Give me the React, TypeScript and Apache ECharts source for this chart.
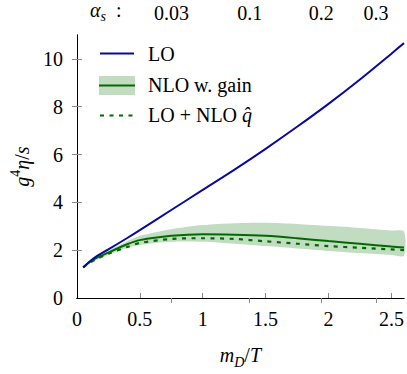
import React, { useEffect, useRef } from "react";
import * as echarts from "echarts";

// m_D / T sample positions
const mD = [0.05, 0.1, 0.15, 0.25, 0.4, 0.5, 0.75, 1.0, 1.25, 1.5, 1.75, 2.0, 2.25, 2.5, 2.6];
// LO
const lo = [1.28, 1.52, 1.72, 2.03, 2.51, 2.84, 3.68, 4.52, 5.36, 6.24, 7.16, 8.12, 9.14, 10.22, 10.66];
// NLO w. gain (central)
const nlo = [1.28, 1.5, 1.66, 1.9, 2.25, 2.42, 2.6, 2.67, 2.65, 2.6, 2.5, 2.38, 2.27, 2.15, 2.11];
// NLO band upper / lower
const nloHi = [1.28, 1.52, 1.7, 1.97, 2.38, 2.6, 2.88, 3.05, 3.13, 3.15, 3.1, 3.02, 2.93, 2.82, 2.78];
const nloLo = [1.28, 1.45, 1.58, 1.8, 2.1, 2.22, 2.35, 2.35, 2.27, 2.17, 2.07, 1.97, 1.88, 1.8, 1.77];
// LO + NLO qhat
const loNloQ = [1.28, 1.47, 1.62, 1.85, 2.13, 2.3, 2.47, 2.5, 2.47, 2.37, 2.27, 2.17, 2.1, 2.03, 2.0];

// tick labels
const xTicks = [0, 0.5, 1, 1.5, 2, 2.5];
const yTicks = [0, 2, 4, 6, 8, 10];
const alphaTicks = [0.03, 0.1, 0.2, 0.3];
const alphaLabels = ["0.03", "0.1", "0.2", "0.3"];
const alphaTitlePos = 0.23;

// m_D/T for N_f = 3: m_D^2 = (1 + N_f/6) g^2 T^2, g^2 = 4 pi alpha_s
const alphaToMD = (a: number) => Math.sqrt(1.5 * 4 * Math.PI * a);

const FONT = "'Liberation Serif', 'Times New Roman', serif";
const FS = 20;
const FSS = 14;
const BLUE = "#0a0a9a";
const GREEN = "#006a00";
const BAND = "#c2dcc2";

const pairs = (ys: number[]) => mD.map((x, i) => [x, ys[i]]);

export default function App() {
  const ref = useRef<HTMLDivElement>(null);
  useEffect(() => {
    const chart = echarts.init(ref.current!, null, { renderer: "svg" });
    const alphaPos = alphaTicks.map(alphaToMD);
    const axisCommon = {
      axisLine: { show: true, lineStyle: { color: "#000", width: 1 } },
      splitLine: { show: false },
    };
    const labelStyle = { fontFamily: FONT, fontSize: FS, color: "#000" };
    chart.setOption({
      animation: false,
      textStyle: { fontFamily: FONT },
      grid: { left: 72, right: 3, top: 33, bottom: 71, containLabel: false },
      xAxis: [
        {
          type: "value",
          position: "bottom",
          min: 0,
          max: 2.6,
          ...axisCommon,
          axisTick: { show: true, inside: true, length: 5, customValues: xTicks.slice(1), lineStyle: { color: "#888" } },
          axisLabel: { ...labelStyle, margin: 11, customValues: xTicks, formatter: (v: number) => String(v) },
          name: "{i|m}{sub|D}{n|/}{i|T}",
          nameLocation: "middle",
          nameGap: 43,
          nameTextStyle: {
            fontFamily: FONT,
            rich: {
              i: { fontFamily: FONT, fontSize: FS, fontStyle: "italic", color: "#000", lineHeight: 28, verticalAlign: "middle" },
              n: { fontFamily: FONT, fontSize: FS, color: "#000", lineHeight: 28, verticalAlign: "middle" },
              sub: { fontFamily: FONT, fontSize: FSS, fontStyle: "italic", color: "#000", lineHeight: 14, verticalAlign: "bottom" },
            },
          },
        },
        {
          type: "value",
          position: "top",
          min: 0,
          max: 2.6,
          ...axisCommon,
          axisTick: { show: true, inside: true, length: 5, customValues: alphaPos, lineStyle: { color: "#888" } },
          axisLabel: {
            ...labelStyle,
            margin: 12,
            customValues: [alphaTitlePos, ...alphaPos],
            formatter: (v: number) => {
              if (Math.abs(v - alphaTitlePos) < 1e-6) return "{a|α}{s|s}{c|  :}";
              let best = 0;
              alphaPos.forEach((p, i) => {
                if (Math.abs(p - v) < Math.abs(alphaPos[best] - v)) best = i;
              });
              return alphaLabels[best];
            },
            rich: {
              a: { fontFamily: FONT, fontSize: FS, fontStyle: "italic", color: "#000", lineHeight: 26, verticalAlign: "middle" },
              s: { fontFamily: FONT, fontSize: FSS, fontStyle: "italic", color: "#000", lineHeight: 12, verticalAlign: "bottom" },
              c: { fontFamily: FONT, fontSize: FS, color: "#000", lineHeight: 26, verticalAlign: "middle" },
            },
          },
        },
      ],
      yAxis: [
        {
          type: "value",
          position: "left",
          min: 0,
          max: 11,
          ...axisCommon,
          axisTick: { show: true, inside: true, length: 5, customValues: yTicks.slice(1), lineStyle: { color: "#888" } },
          axisLabel: { ...labelStyle, margin: 14, customValues: yTicks, formatter: (v: number) => String(v) },
          name: "{i|g}{sup|4}{i|η}{n|/}{i|s}",
          nameLocation: "middle",
          nameRotate: 90,
          nameGap: 38,
          nameTextStyle: {
            fontFamily: FONT,
            rich: {
              i: { fontFamily: FONT, fontSize: FS, fontStyle: "italic", color: "#000", lineHeight: 28, verticalAlign: "middle" },
              n: { fontFamily: FONT, fontSize: FS, color: "#000", lineHeight: 28, verticalAlign: "middle" },
              sup: { fontFamily: FONT, fontSize: FSS, color: "#000", lineHeight: 14, verticalAlign: "top" },
            },
          },
        },
        {
          type: "value",
          position: "right",
          min: 0,
          max: 11,
          ...axisCommon,
          axisTick: { show: true, inside: true, length: 5, customValues: yTicks.slice(1), lineStyle: { color: "#888" } },
          axisLabel: { show: false },
        },
      ],
      series: [
        {
          name: "NLO band",
          type: "custom",
          silent: true,
          data: mD.map((x, i) => [x, nloLo[i], nloHi[i]]),
          encode: { x: 0, y: [1, 2] },
          renderItem: (params: any, api: any) => {
            if (params.dataIndex !== 0) return null;
            const upper = mD.map((x, i) => api.coord([x, nloHi[i]]));
            const lower = mD.map((x, i) => api.coord([x, nloLo[i]])).reverse();
            return {
              type: "polygon",
              shape: { points: upper.concat(lower), smooth: 0.25 },
              style: { fill: BAND, stroke: "none" },
            };
          },
          z: 1,
        },
        {
          name: "LO + NLO q̂",
          type: "line",
          data: pairs(loNloQ),
          smooth: 0.3,
          symbol: "none",
          lineStyle: { color: GREEN, width: 2.2, type: [4, 5.5] },
          z: 2,
        },
        {
          name: "NLO w. gain",
          type: "line",
          data: pairs(nlo),
          smooth: 0.3,
          symbol: "none",
          lineStyle: { color: GREEN, width: 2 },
          z: 3,
        },
        {
          name: "LO",
          type: "line",
          data: pairs(lo),
          smooth: 0.3,
          symbol: "none",
          lineStyle: { color: BLUE, width: 2 },
          z: 4,
        },
      ],
      graphic: [
        { type: "line", shape: { x1: 100, y1: 53.5, x2: 134, y2: 53.5 }, style: { stroke: BLUE, lineWidth: 2 } },
        { type: "text", x: 148, y: 54, style: { text: "LO", fontFamily: FONT, fontSize: FS, fill: "#000", verticalAlign: "middle" } },
        { type: "rect", shape: { x: 99, y: 76, width: 36, height: 19 }, style: { fill: BAND } },
        { type: "line", shape: { x1: 99, y1: 85.5, x2: 135, y2: 85.5 }, style: { stroke: GREEN, lineWidth: 2 } },
        { type: "text", x: 148, y: 85, style: { text: "NLO w. gain", fontFamily: FONT, fontSize: FS, fill: "#000", verticalAlign: "middle" } },
        { type: "line", shape: { x1: 100, y1: 115.5, x2: 134, y2: 115.5 }, style: { stroke: GREEN, lineWidth: 2.2, lineDash: [4, 5.5] } },
        {
          type: "text",
          x: 148,
          y: 115,
          style: {
            text: "LO + NLO {i|q\u0302}",
            fontFamily: FONT,
            fontSize: FS,
            fill: "#000",
            verticalAlign: "middle",
            rich: { i: { fontFamily: FONT, fontSize: FS, fontStyle: "italic", fill: "#000" } },
          },
        },
      ],
    });
    return () => chart.dispose();
  }, []);
  return <div ref={ref} style={{ position: "absolute", left: 0, top: 0, width: 407, height: 374 }} />;
}
